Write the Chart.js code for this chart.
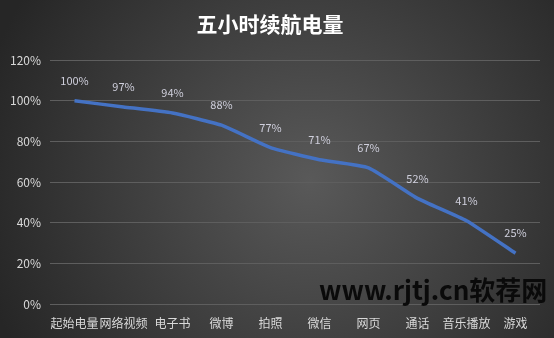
<!DOCTYPE html>
<html>
<head>
<meta charset="utf-8">
<script src="https://cdn.jsdelivr.net/npm/chart.js@4/dist/chart.umd.min.js"></script>
<style>
  html, body { margin: 0; padding: 0; background: #333; }
  #wrap { position: relative; width: 554px; height: 338px; }
  #watermark {
    position: absolute; left: 319px; top: 271px;
    font-family: "Noto Sans CJK SC", sans-serif; font-weight: bold;
    font-size: 26px; color: #0a0a0a; white-space: nowrap; line-height: 36px;
  }
</style>
</head>
<body>
<div id="wrap">
  <canvas id="chart" width="554" height="338"></canvas>
  <div id="watermark">www.rjtj.cn软荐网</div>
</div>
<script>
// data
const categories = ['起始电量', '网络视频', '电子书', '微博', '拍照', '微信', '网页', '通话', '音乐播放', '游戏'];
const batteryLeft = [100, 97, 94, 88, 77, 71, 67, 52, 41, 25];
const yTicks = [0, 20, 40, 60, 80, 100, 120];

const FONT = '"Noto Sans CJK SC", "Noto Sans", sans-serif';

// dark radial backdrop like the office template
const backdrop = {
    id: 'backdrop',
    beforeDraw(chart) {
        const { ctx, width, height } = chart;
        const g = ctx.createRadialGradient(310, 180, 0, 310, 180, 340);
        g.addColorStop(0, '#595959');
        g.addColorStop(1, '#262626');
        ctx.save();
        ctx.fillStyle = g;
        ctx.fillRect(0, 0, width, height);
        ctx.restore();
    }
};

// value labels above each point
const valueLabels = {
    id: 'valueLabels',
    afterDatasetsDraw(chart) {
        const { ctx } = chart;
        const meta = chart.getDatasetMeta(0);
        ctx.save();
        ctx.font = '11px ' + FONT;
        ctx.fillStyle = '#cfcfdc';
        ctx.textAlign = 'center';
        ctx.textBaseline = 'middle';
        meta.data.forEach((pt, i) => {
            ctx.fillText(batteryLeft[i] + '%', pt.x, pt.y - 20);
        });
        ctx.restore();
    }
};

new Chart(document.getElementById('chart'), {
    type: 'line',
    data: {
        labels: categories,
        datasets: [{
            data: batteryLeft,
            borderColor: '#4472c4',
            borderWidth: 3.5,
            pointRadius: 0,
            tension: 0.15,
            fill: false
        }]
    },
    options: {
        responsive: false,
        animation: false,
        layout: { padding: { left: 0, right: 14, top: 0, bottom: 0 } },
        plugins: {
            legend: { display: false },
            tooltip: { enabled: false },
            title: {
                display: true,
                text: '五小时续航电量',
                color: '#ffffff',
                font: { family: FONT, size: 21, weight: 'bold' },
                padding: { top: 11, bottom: 24 }
            }
        },
        scales: {
            x: {
                offset: true,
                grid: { display: false },
                border: { display: false },
                ticks: {
                    color: '#d9d9d9',
                    font: { family: FONT, size: 12 },
                    maxRotation: 0,
                    autoSkip: false,
                    padding: 4
                },
                afterFit(scale) { scale.height = 34; }
            },
            y: {
                min: 0,
                max: 120,
                afterBuildTicks(scale) { scale.ticks = yTicks.map(v => ({ value: v })); },
                grid: { color: '#5e5e5e', lineWidth: 1, drawTicks: false },
                border: { display: false },
                ticks: {
                    color: '#d9d9d9',
                    font: { family: FONT, size: 12 },
                    padding: 9,
                    callback: (v) => v + '%'
                },
                afterFit(scale) { scale.width = 50; }
            }
        }
    },
    plugins: [backdrop, valueLabels]
});
</script>
</body>
</html>
